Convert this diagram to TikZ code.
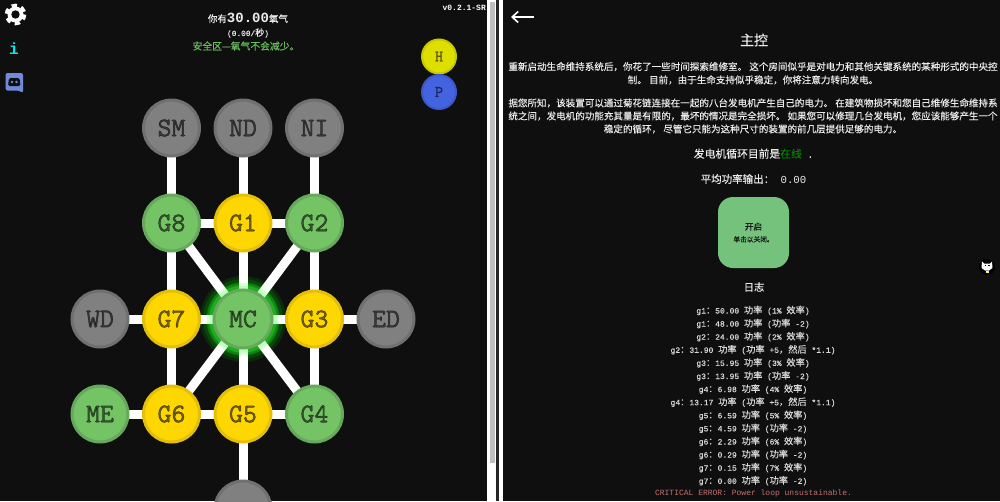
\documentclass[tikz,border=0pt]{standalone}
\usepackage{fontspec}
\setmainfont[FakeBold=0.2]{Noto Sans CJK SC}
\newfontfamily\plainmono{Liberation Mono}
\newfontfamily\logmono[Scale=0.87,FakeBold=0.2]{Liberation Mono}
\newfontfamily\roomfont[FakeBold=1.6]{Latin Modern Mono}
\usetikzlibrary{arrows.meta, positioning}

\definecolor{panelbg}{HTML}{0F0F0F}
\definecolor{leafgreen}{HTML}{74C365}
\definecolor{leafedge}{HTML}{66A85C}
\definecolor{goldfill}{HTML}{FFD700}
\definecolor{goldedge}{HTML}{E3BF0C}
\definecolor{stonefill}{HTML}{808080}
\definecolor{stoneedge}{HTML}{707070}
\definecolor{safegreen}{HTML}{68BC5C}
\definecolor{onlinegreen}{HTML}{0A7A0A}
\definecolor{errorred}{HTML}{C07270}
\definecolor{buttongreen}{HTML}{74C27C}
\definecolor{discordblue}{HTML}{7289DA}
\definecolor{infocyan}{HTML}{00E8E8}
\definecolor{hfill}{HTML}{DEDE00}
\definecolor{hedge}{HTML}{C8C800}
\definecolor{pfill}{HTML}{4463E0}
\definecolor{pedge}{HTML}{3E58C8}

\newcommand{\mn}[1]{{\logmono #1}}
\newcommand{\effline}[3]{\mn{#1}：\mn{#2 }功率\mn{ (#3\% }效率\mn{)}}
\newcommand{\penline}[2]{\mn{#1}：\mn{#2 }功率\mn{ (}功率\mn{ -2)}}
\newcommand{\bonusline}[2]{\mn{#1}：\mn{#2 }功率\mn{ (}功率\mn{ +5}，然后\mn{ *1.1)}}

\pgfdeclarelayer{panel}
\pgfdeclarelayer{halo}
\pgfdeclarelayer{wires}
\pgfsetlayers{panel,halo,wires,main}

\begin{document}
\begin{tikzpicture}[
    x=1pt, y=-1pt,
    room/.style={
        circle,
        line width=3pt,
        outer sep=0pt,
        inner sep=0pt,
        minimum size=56pt,
        font=\fontsize{27}{27}\selectfont\roomfont,
        text opacity=0.55
    },
    greenroom/.style={room, fill=leafgreen, draw=leafedge},
    goldroom/.style={room, fill=goldfill, draw=goldedge},
    greyroom/.style={room, fill=stonefill, draw=stoneedge},
    wire/.style={draw=white, line width=9pt},
    roundbtn/.style={
        circle,
        line width=2pt,
        outer sep=0pt,
        inner sep=0pt,
        minimum size=34pt,
        font=\fontsize{16}{16}\selectfont\roomfont,
        text opacity=0.5
    },
    caption/.style={text=white!92!black, align=center, inner sep=0pt}
]
    \useasboundingbox (0,0) rectangle (1000,501);

    % Panels and scrollbar
    \begin{pgfonlayer}{panel}
        \fill[white] (0,0) rectangle (1000,501);
        \fill[panelbg] (0,0) rectangle (487,501);
        \fill[black!85] (496,0) rectangle (499,501);
        \fill[panelbg] (503,0) rectangle (1000,501);
        \fill[black!25] (489.5,2) rectangle (494.5,463);
    \end{pgfonlayer}

    % Generator grid
    \node (mc) [greenroom, minimum size=58pt] at (243,319) {MC};
    \node (g7) [goldroom, left=14.5pt of mc] {G7};
    \node (g3) [goldroom, right=14.5pt of mc] {G3};
    \node (wd) [greyroom, left=15.5pt of g7] {WD};
    \node (ed) [greyroom, right=15.5pt of g3] {ED};
    \node (g1) [goldroom, above=39pt of mc] {G1};
    \node (g5) [goldroom, below=38pt of mc] {G5};
    \node (g8) [greenroom, left=15.5pt of g1] {G8};
    \node (g2) [greenroom, right=15.5pt of g1] {G2};
    \node (g6) [goldroom, left=15.5pt of g5] {G6};
    \node (g4) [greenroom, right=15.5pt of g5] {G4};
    \node (me) [greenroom, left=15.5pt of g6] {ME};
    \node (sm) [greyroom, above=39pt of g8] {SM};
    \node (nd) [greyroom, above=39pt of g1] {ND};
    \node (ni) [greyroom, above=39pt of g2] {NI};
    \node (sd) [greyroom, below=39pt of g5] {};

    % Glow round the middle node
    \begin{pgfonlayer}{halo}
        \fill[green!80!black, opacity=0.14] (mc) circle (43);
        \fill[green!80!black, opacity=0.18] (mc) circle (40);
        \fill[green!80!black, opacity=0.22] (mc) circle (37);
        \fill[green!80!black, opacity=0.28] (mc) circle (34);
    \end{pgfonlayer}

    % Connections
    \begin{pgfonlayer}{wires}
        \draw[wire] (sm) -- (g8);
        \draw[wire] (nd) -- (g1);
        \draw[wire] (ni) -- (g2);
        \draw[wire] (g8) -- (g1);
        \draw[wire] (g1) -- (g2);
        \draw[wire] (g8) -- (g7);
        \draw[wire] (g2) -- (g3);
        \draw[wire] (g7) -- (g6);
        \draw[wire] (g3) -- (g4);
        \draw[wire] (wd) -- (g7);
        \draw[wire] (g3) -- (ed);
        \draw[wire] (me) -- (g6);
        \draw[wire] (g6) -- (g5);
        \draw[wire] (g5) -- (g4);
        \draw[wire] (g5) -- (sd);
        \draw[wire] (mc) -- (g1);
        \draw[wire] (mc) -- (g5);
        \draw[wire] (mc) -- (g7);
        \draw[wire] (mc) -- (g3);
        \draw[wire] (mc) -- (g8);
        \draw[wire] (mc) -- (g2);
        \draw[wire] (mc) -- (g6);
        \draw[wire] (mc) -- (g4);
        \fill[green!70!white, opacity=0.2] (mc) circle (36);
        \fill[green!70!white, opacity=0.2] (mc) circle (33.5);
    \end{pgfonlayer}

    % Top bar of the left panel
    \node (oxygen) [caption] at (248,18) {\fontsize{9.5}{10}\selectfont 你有{\fontsize{14}{14}\selectfont\plainmono\bfseries 30.00}氧气};
    \node (rate) [caption] at (248,33) {\fontsize{9}{10}\selectfont{\logmono (0.00/}秒{\logmono )}};
    \node (safe) [caption, text=safegreen] at (246,46) {\fontsize{9.8}{10}\selectfont 安全区—氧气不会减少。};
    \node (version) [caption, anchor=east, text=white] at (486,8) {\fontsize{8}{8}\selectfont\plainmono\bfseries v0.2.1-SR};
    \node (hbtn) [roundbtn, fill=hfill, draw=hedge] at (439,56.5) {H};
    \node (pbtn) [roundbtn, fill=pfill, draw=pedge, below=1.5pt of hbtn] {P};

    % Icons
    \fill[white] (15.5,14.5) circle (8);
    \draw[white, line width=4pt, dash pattern=on 5pt off 4.42pt] (15.5,14.5) circle (8.8);
    \fill[panelbg] (15.5,14.5) circle (4.2);
    \node (info) [caption, text=infocyan] at (14,49) {\fontsize{16}{16}\selectfont\plainmono\bfseries i};
    \fill[discordblue, rounded corners=2pt] (5.5,73) -- (23,73) -- (23,93) -- (19,90.5) -- (5.5,90.5) -- cycle;
    \fill[panelbg, rounded corners=1.5pt] (9,78) -- (19.5,78) -- (20.5,86) -- (8,86) -- cycle;
    \fill[discordblue] (12,82) circle (1.4);
    \fill[discordblue] (16.5,82) circle (1.4);

    % Right panel
    \coordinate (backhead) at (511,17);
    \coordinate (backtail) at (534,17);
    \draw[white, line width=1.6pt, -{Straight Barb[length=6pt,width=11pt]}] (backtail) -- (backhead);
    \node (heading) [caption, font=\fontsize{14}{14}\selectfont] at (754,40) {主控};
    \node (introa) [caption, font=\fontsize{9.55}{13.3}\selectfont] at (753,73.3) {%
        重新启动生命维持系统后，你花了一些时间探索维修室。 这个房间似乎是对电力和其他关键系统的某种形式的中央控\\%
        制。 目前，由于生命支持似乎稳定，你将注意力转向发电。};
    \node (introb) [caption, font=\fontsize{9.55}{13}\selectfont] at (753,116) {%
        据您所知，该装置可以通过菊花链连接在一起的八台发电机产生自己的电力。 在建筑物损坏和您自己维修生命维持系\\%
        统之间，发电机的功能充其量是有限的，最坏的情况是完全损坏。 如果您可以修理几台发电机，您应该能够产生一个\\%
        稳定的循环， 尽管它只能为这种尺寸的装置的前几层提供足够的电力。};
    \node (status) [caption, font=\fontsize{10.8}{12}\selectfont] at (753.5,153.7) {发电机循环目前是\textcolor{onlinegreen}{在线}{\logmono\ .}};
    \node (output) [caption, font=\fontsize{10.5}{12}\selectfont] at (753.5,179) {平均功率输出：{\fontsize{10.7}{12}\selectfont\plainmono\ 0.00}};

    \node (power) [rounded corners=15pt, fill=buttongreen, minimum size=71pt, inner sep=0pt, align=center, text=black!90] at (753.5,232.5) {%
        {\fontsize{8.7}{11}\selectfont 开启}\\%
        {\fontsize{6.7}{9}\selectfont 单击以关闭。}%
    };

    \node (logtitle) [caption, font=\fontsize{10.3}{12}\selectfont] at (754,287) {日志};
    \node (loglist) [caption, anchor=north, text=white!85!black, font=\fontsize{9.2}{13.1}\selectfont] at (753,305.5) {%
        \effline{g1}{50.00}{1}\\%
        \penline{g1}{48.00}\\%
        \effline{g2}{24.00}{2}\\%
        \bonusline{g2}{31.90}\\%
        \effline{g3}{15.95}{3}\\%
        \penline{g3}{13.95}\\%
        \effline{g4}{6.98}{4}\\%
        \bonusline{g4}{13.17}\\%
        \effline{g5}{6.59}{5}\\%
        \penline{g5}{4.59}\\%
        \effline{g6}{2.29}{6}\\%
        \penline{g6}{0.29}\\%
        \effline{g7}{0.15}{7}\\%
        \penline{g7}{0.00}};
    \node (critical) [caption, text=errorred, font=\fontsize{8}{8}\selectfont\plainmono] at (753.5,493) {CRITICAL ERROR: Power loop unsustainable.};

    % Cat badge
    \fill[black] (987,267) circle (8);
    \fill[white] (982,261.5) -- (984,263.5) -- (990,263.5) -- (992,261.5) -- (992.5,268) -- (989,270.5) -- (985,270.5) -- (981.5,268) -- cycle;
    \fill[black] (984.5,265.2) rectangle (986,266.2);
    \fill[black] (988,265.2) rectangle (989.5,266.2);
    \fill[yellow!60!white] (985.5,270.5) rectangle (988.5,273);
\end{tikzpicture}
\end{document}
